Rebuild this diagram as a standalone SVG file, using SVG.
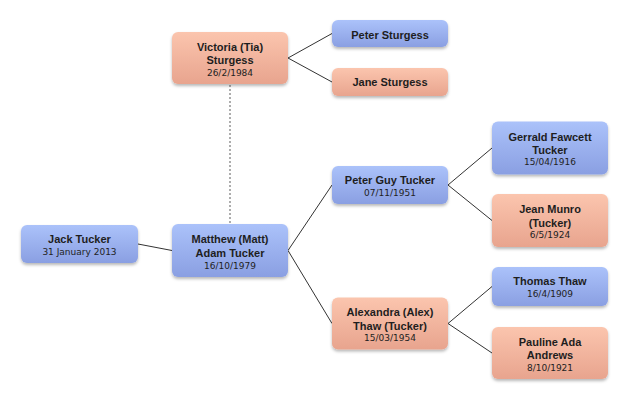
<svg xmlns="http://www.w3.org/2000/svg" width="628" height="400" viewBox="0 0 628 400">
<defs>
<linearGradient id="gBlue" x1="0" y1="0" x2="0" y2="1">
<stop offset="0" stop-color="#abc2fa"/>
<stop offset="1" stop-color="#8a9fe2"/>
</linearGradient>
<linearGradient id="gPink" x1="0" y1="0" x2="0" y2="1">
<stop offset="0" stop-color="#fbc5ae"/>
<stop offset="1" stop-color="#e8a48e"/>
</linearGradient>
<filter id="sh" x="-10%" y="-20%" width="120%" height="150%">
<feDropShadow dx="0" dy="2" stdDeviation="1.8" flood-color="#000" flood-opacity="0.28"/>
</filter>
</defs>
<style>
.blue{fill:url(#gBlue);filter:url(#sh);}
.pink{fill:url(#gPink);filter:url(#sh);}
.n{font-family:"Liberation Sans",Arial,sans-serif;font-weight:bold;font-size:11px;fill:#1e1e1e;text-anchor:middle;}
.d{font-family:"DejaVu Sans",sans-serif;font-size:9px;fill:#222;text-anchor:middle;}
.c{stroke:#333;stroke-width:1;fill:none;}
.dash{stroke:#777;stroke-width:1.2;stroke-dasharray:2,2;fill:none;}
</style>
<rect width="628" height="400" fill="#ffffff"/>
<g id="connectors">
<line class="dash" x1="230" y1="85" x2="230" y2="224"/>
<polyline class="c" points="332,33.5 288,58 332,82"/>
<line class="c" x1="138" y1="244" x2="172" y2="250.5"/>
<polyline class="c" points="332,185 288,250.5 332,323.5"/>
<polyline class="c" points="492,148 448,185 492,220.5"/>
<polyline class="c" points="492,286.5 448,323.5 492,353"/>
</g>
<g id="victoria">
<rect class="pink" x="172" y="32" width="116" height="52" rx="6"/>
<text class="n" x="230" y="51">Victoria (Tia)</text>
<text class="n" x="230" y="64">Sturgess</text>
<text class="d" x="230" y="75.5">26/2/1984</text>
</g>
<g id="peter-sturgess">
<rect class="blue" x="332" y="20" width="116" height="27" rx="6"/>
<text class="n" x="390" y="39">Peter Sturgess</text>
</g>
<g id="jane-sturgess">
<rect class="pink" x="332" y="68" width="116" height="28" rx="6"/>
<text class="n" x="390" y="86">Jane Sturgess</text>
</g>
<g id="jack">
<rect class="blue" x="21" y="225" width="117" height="38" rx="6"/>
<text class="n" x="79.5" y="243">Jack Tucker</text>
<text class="d" x="79.5" y="254.5">31 January 2013</text>
</g>
<g id="matthew">
<rect class="blue" x="172" y="224" width="116" height="53" rx="6"/>
<text class="n" x="230" y="243">Matthew (Matt)</text>
<text class="n" x="230" y="257">Adam Tucker</text>
<text class="d" x="230" y="268.5">16/10/1979</text>
</g>
<g id="peter-guy">
<rect class="blue" x="332" y="166" width="116" height="38" rx="6"/>
<text class="n" x="390" y="184">Peter Guy Tucker</text>
<text class="d" x="390" y="195.5">07/11/1951</text>
</g>
<g id="alexandra">
<rect class="pink" x="332" y="297.5" width="116" height="52" rx="6"/>
<text class="n" x="390" y="316">Alexandra (Alex)</text>
<text class="n" x="390" y="330">Thaw (Tucker)</text>
<text class="d" x="390" y="341">15/03/1954</text>
</g>
<g id="gerrald">
<rect class="blue" x="492" y="121.5" width="116" height="53" rx="6"/>
<text class="n" x="550" y="140.5">Gerrald Fawcett</text>
<text class="n" x="550" y="154">Tucker</text>
<text class="d" x="550" y="165">15/04/1916</text>
</g>
<g id="jean">
<rect class="pink" x="492" y="194" width="116" height="53" rx="6"/>
<text class="n" x="550" y="213">Jean Munro</text>
<text class="n" x="550" y="226.5">(Tucker)</text>
<text class="d" x="550" y="237.5">6/5/1924</text>
</g>
<g id="thomas">
<rect class="blue" x="492" y="267" width="116" height="39" rx="6"/>
<text class="n" x="550" y="285">Thomas Thaw</text>
<text class="d" x="550" y="296.5">16/4/1909</text>
</g>
<g id="pauline">
<rect class="pink" x="492" y="327" width="116" height="52" rx="6"/>
<text class="n" x="550" y="345.5">Pauline Ada</text>
<text class="n" x="550" y="359">Andrews</text>
<text class="d" x="550" y="370.5">8/10/1921</text>
</g>
</svg>
